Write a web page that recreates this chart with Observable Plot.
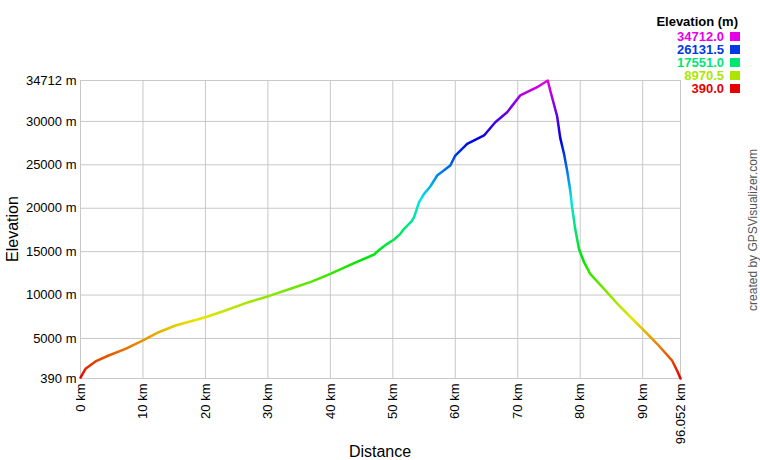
<!DOCTYPE html>
<html>
<head>
<meta charset="utf-8">
<script src="https://cdn.jsdelivr.net/npm/d3@7"></script>
<script src="https://cdn.jsdelivr.net/npm/@observablehq/plot@0.6"></script>
<style>
  body { margin: 0; background: #fff; font-family: "Liberation Sans", Arial, sans-serif; }
  #wrap { position: relative; width: 760px; height: 460px; overflow: hidden; }
  #wrap svg { position: absolute; left: 0; top: 0; }
  .abs { position: absolute; white-space: nowrap; line-height: 13px; }
</style>
</head>
<body>
<div id="wrap"></div>
<script>
// ---- data ----
const distKm = [0, 0.8, 2.4, 4.5, 7.2, 10.0, 12.5, 15.2, 20.0, 23.2, 26.9, 30.1, 34.1, 37.0, 40.0, 43.8, 47.0, 48.0, 49.1, 50.2, 51.2, 51.8, 53.0, 53.4, 54.2, 55.0, 56.0, 57.1, 59.2, 60.0, 61.9, 64.6, 66.4, 68.3, 70.4, 73.1, 74.8, 75.2, 76.3, 76.8, 77.4, 77.9, 78.4, 78.7, 79.2, 79.8, 80.6, 81.6, 83.8, 86.2, 88.6, 90.2, 92.3, 94.7, 95.5, 96.052];
const elevM = [500, 1500, 2350, 3040, 3810, 4770, 5720, 6490, 7450, 8220, 9180, 9870, 10840, 11550, 12450, 13670, 14670, 15300, 15900, 16400, 17050, 17630, 18500, 18970, 20700, 21660, 22500, 23770, 24920, 26070, 27420, 28380, 29910, 31060, 33000, 33940, 34712, 33560, 30600, 28100, 26270, 24350, 22040, 20120, 17600, 15300, 13800, 12450, 10720, 8800, 7070, 5920, 4390, 2460, 1310, 390];
const xTicks = [0, 10, 20, 30, 40, 50, 60, 70, 80, 90, 96.052];
const yTicks = [390, 5000, 10000, 15000, 20000, 25000, 30000, 34712];
const legendValues = [34712.0, 26131.5, 17551.0, 8970.5, 390.0];

const data = distKm.map((d, i) => ({dist: d, elev: elevM[i]}));
const eMin = 390, eMax = 34712;
const colorOf = v => d3.hsl(300 * (v - eMin) / (eMax - eMin), 1, 0.45).formatHex();

const grid = {stroke: "#c8c8c8", strokeOpacity: 1, strokeWidth: 1};
const chart = Plot.plot({
  width: 760, height: 460,
  marginTop: 80, marginLeft: 80, marginRight: 80, marginBottom: 82,
  style: {fontFamily: "'Liberation Sans', Arial, sans-serif", fontSize: "13px", color: "#000", background: "white"},
  x: {domain: [0, 96.052]},
  y: {domain: [eMin, eMax]},
  marks: [
    Plot.gridX(xTicks, grid),
    Plot.gridY(yTicks, grid),
    Plot.axisX(xTicks, {tickSize: 0, tickPadding: 5, tickRotate: -90, tickFormat: d => d + " km", label: null, fill: "#000"}),
    Plot.axisY(yTicks, {tickSize: 0, tickPadding: 4, tickFormat: d => d + " m", label: null, fill: "#000"}),
    Plot.line(data, {x: "dist", y: "elev", stroke: "url(#elevGrad)", strokeWidth: 2.5, curve: "linear"})
  ]
});

// vertical gradient keyed to elevation through the y scale
const ys = chart.scale("y");
const ns = "http://www.w3.org/2000/svg";
const defs = document.createElementNS(ns, "defs");
const lg = document.createElementNS(ns, "linearGradient");
lg.setAttribute("id", "elevGrad");
lg.setAttribute("gradientUnits", "userSpaceOnUse");
lg.setAttribute("x1", 0); lg.setAttribute("x2", 0);
lg.setAttribute("y1", ys.apply(eMin)); lg.setAttribute("y2", ys.apply(eMax));
for (let i = 0; i <= 30; i++) {
  const t = i / 30;
  const st = document.createElementNS(ns, "stop");
  st.setAttribute("offset", t);
  st.setAttribute("stop-color", colorOf(eMin + t * (eMax - eMin)));
  lg.appendChild(st);
}
defs.appendChild(lg);
chart.insertBefore(defs, chart.firstChild);

const wrap = document.getElementById("wrap");
wrap.appendChild(chart);

// axis titles
const yl = document.createElement("div");
yl.className = "abs";
yl.textContent = "Elevation";
yl.style.cssText += "font-size:16px;line-height:18px;left:13px;top:229px;transform:translate(-50%,-50%) rotate(-90deg);";
wrap.appendChild(yl);
const xl = document.createElement("div");
xl.className = "abs";
xl.textContent = "Distance";
xl.style.cssText += "font-size:16px;line-height:18px;left:380px;top:452px;transform:translate(-50%,-50%);";
wrap.appendChild(xl);

// credit
const cr = document.createElement("div");
cr.className = "abs";
cr.textContent = "created by GPSVisualizer.com";
cr.style.cssText += "font-size:12px;color:#555;left:753px;top:230px;transform:translate(-50%,-50%) rotate(-90deg);";
wrap.appendChild(cr);

// legend
const lt = document.createElement("div");
lt.className = "abs";
lt.textContent = "Elevation (m)";
lt.style.cssText += "font-size:13px;font-weight:bold;right:22px;top:15px;";
wrap.appendChild(lt);
legendValues.forEach((v, i) => {
  const c = colorOf(v);
  const row = document.createElement("div");
  row.className = "abs";
  row.textContent = v.toFixed(1);
  row.style.cssText += `font-size:13px;font-weight:bold;color:${c};right:36px;top:${29.5 + i * 13.1}px;`;
  wrap.appendChild(row);
  const sq = document.createElement("div");
  sq.className = "abs";
  sq.style.cssText += `background:${c};left:730px;top:${32 + i * 13.1}px;width:10px;height:9px;`;
  wrap.appendChild(sq);
});
</script>
</body>
</html>
